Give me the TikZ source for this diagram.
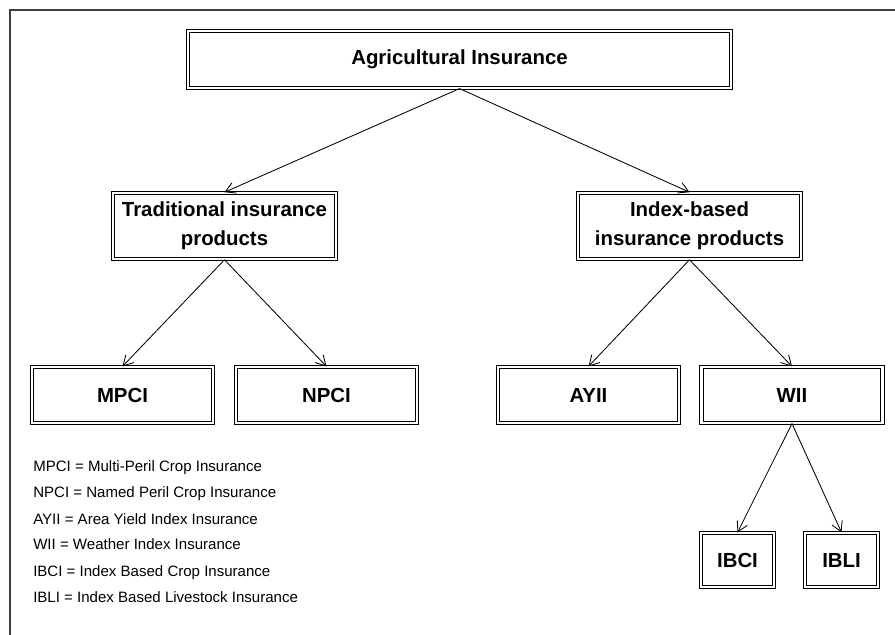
\documentclass[tikz,border=0pt]{standalone}
\usepackage{fontspec}
\setmainfont{Liberation Sans}
\usetikzlibrary{arrows.meta}

\tikzset{
    box/.style={draw, line width=0.8pt, double, double distance=1.5pt,
        align=center, inner sep=0pt,
        font=\fontsize{14.5}{20.5}\selectfont\bfseries},
    bigbox/.style={box, minimum width=13.575cm, minimum height=1.425cm},
    midbox/.style={box, minimum width=5.575cm, minimum height=1.66cm},
    leafbox/.style={box, minimum width=4.525cm, minimum height=1.4cm},
    smallbox/.style={box, minimum width=1.825cm, minimum height=1.35cm},
    link/.style={-{Straight Barb[length=7pt,width=8pt]}, line width=0.6pt},
    legend/.style={anchor=base west, inner sep=0pt, font=\fontsize{10.7}{12}\selectfont}
}

\begin{document}
\begin{tikzpicture}[x=0.025cm, y=-0.025cm]
    \useasboundingbox (0,0) rectangle (895,635);

    % Frame (top and left side only)
    \draw[line width=1pt, black!75] (10,635) -- (10,10) -- (895,10);

    % Root
    \node[bigbox] (agri) at (459.5,59.5) {Agricultural Insurance};

    % Second level
    \node[midbox] (trad) at (224.5,226) {Traditional insurance\\products};
    \node[midbox] (index) at (689.5,226) {Index-based\\insurance products};

    % Third level
    \node[leafbox] (mpci) at (122.5,395) {MPCI};
    \node[leafbox] (npci) at (326.5,395) {NPCI};
    \node[leafbox] (ayii) at (588.5,395) {AYII};
    \node[leafbox] (wii) at (792,395) {WII};

    % Fourth level
    \node[smallbox] (ibci) at (737.5,560) {IBCI};
    \node[smallbox] (ibli) at (841.5,560) {IBLI};

    % Connectors
    \draw[link] (agri.south) -- (trad.north);
    \draw[link] (agri.south) -- (index.north);
    \draw[link] (trad.south) -- (mpci.north);
    \draw[link] (trad.south) -- (npci.north);
    \draw[link] (index.south) -- (ayii.north);
    \draw[link] (index.south) -- (wii.north);
    \draw[link] (wii.south) -- (ibci.north);
    \draw[link] (wii.south) -- (ibli.north);

    % Legend
    \node[legend] (lmpci) at (33,472) {MPCI = Multi-Peril Crop Insurance};
    \node[legend] (lnpci) at (33,498) {NPCI = Named Peril Crop Insurance};
    \node[legend] (layii) at (33,524) {AYII = Area Yield Index Insurance};
    \node[legend] (lwii) at (33,550) {WII = Weather Index Insurance};
    \node[legend] (libci) at (33,576) {IBCI = Index Based Crop Insurance};
    \node[legend] (libli) at (33,602) {IBLI = Index Based Livestock Insurance};
\end{tikzpicture}
\end{document}
